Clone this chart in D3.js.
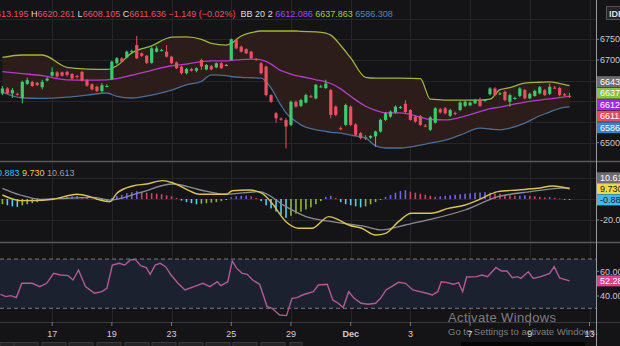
<!DOCTYPE html>
<html><head><meta charset="utf-8">
<script src="https://cdn.jsdelivr.net/npm/d3@7"></script>
<style>
html,body{margin:0;padding:0;background:#141416;overflow:hidden}
svg{display:block}
text{font-family:"Liberation Sans",Arial,sans-serif}
</style></head><body>
<svg id="c" width="620" height="346"></svg>
<script>
// ---------- DATA ----------
// hourly candles [open, high, low, close]
const candles = [
[6619,6637,6615,6631],[6631,6634,6617,6619],[6619,6632,6608,6627],[6618,6621,6614,6617],[6608,6650,6595,6647],
[6642,6657,6640,6651],[6647,6650,6635,6637],[6645,6647,6637,6639],[6634,6652,6629,6647],[6650,6658,6648,6655],
[6662,6682,6660,6671],[6670,6673,6657,6660],[6670,6672,6660,6662],[6671,6674,6660,6664],[6666,6668,6652,6655],
[6661,6664,6655,6659],[6671,6674,6648,6650],[6651,6654,6635,6638],[6641,6643,6626,6629],[6635,6638,6622,6625],
[6625,6644,6621,6639],[6637,6641,6634,6637],[6653,6698,6651,6696],[6692,6707,6689,6704],[6704,6707,6694,6696],
[6706,6723,6704,6720],[6721,6725,6718,6722],[6736,6758,6702,6704],[6716,6718,6707,6710],[6710,6712,6690,6693],
[6693,6731,6691,6728],[6720,6734,6718,6728],[6724,6727,6721,6724],[6720,6736,6706,6708],[6708,6710,6690,6692],
[6694,6696,6678,6680],[6684,6686,6665,6668],[6668,6681,6665,6678],[6678,6681,6672,6674],[6674,6682,6670,6680],
[6700,6703,6676,6684],[6677,6690,6675,6688],[6685,6688,6675,6677],[6682,6694,6680,6692],[6692,6695,6678,6680],
[6687,6690,6685,6688],[6700,6752,6698,6750],[6748,6752,6726,6728],[6732,6735,6718,6720],[6726,6728,6714,6716],
[6720,6722,6702,6704],[6702,6705,6698,6700],[6692,6695,6665,6668],[6684,6686,6612,6615],[6615,6617,6596,6599],
[6571,6574,6548,6559],[6558,6561,6553,6557],[6555,6560,6486,6539],[6543,6602,6540,6599],[6599,6602,6585,6587],
[6589,6606,6586,6603],[6597,6618,6595,6615],[6612,6616,6609,6611],[6607,6642,6605,6640],[6636,6640,6633,6636],
[6632,6652,6630,6643],[6627,6630,6559,6567],[6587,6590,6564,6567],[6535,6539,6530,6534],[6543,6594,6540,6591],
[6587,6590,6540,6543],[6544,6547,6516,6519],[6523,6526,6508,6511],[6513,6518,6506,6512],[6512,6518,6509,6516],
[6515,6529,6490,6527],[6527,6558,6524,6555],[6555,6574,6552,6571],[6563,6578,6560,6575],[6573,6590,6570,6587],
[6585,6589,6582,6586],[6594,6603,6572,6574],[6579,6581,6553,6555],[6563,6566,6548,6551],[6564,6567,6540,6543],
[6541,6545,6537,6540],[6531,6564,6528,6561],[6548,6586,6546,6583],[6581,6584,6570,6573],[6583,6586,6568,6571],
[6565,6582,6562,6579],[6572,6575,6566,6570],[6579,6600,6576,6597],[6589,6602,6586,6599],[6590,6600,6588,6597],
[6595,6606,6593,6603],[6605,6609,6586,6589],[6602,6605,6599,6603],[6617,6634,6614,6631],[6631,6634,6613,6615],
[6619,6622,6616,6619],[6623,6626,6600,6603],[6599,6618,6587,6615],[6607,6611,6604,6608],[6613,6634,6610,6631],
[6627,6630,6605,6607],[6607,6621,6605,6618],[6613,6628,6611,6625],[6619,6637,6617,6634],[6627,6630,6613,6615],
[6618,6643,6615,6635],[6633,6637,6630,6632],[6632,6635,6612,6615],[6617,6620,6613,6614],[6613.195,6620.261,6608.105,6611.636]
];
// Bollinger band (20,2) read at candle positions
const bbIdx   = [0,4,8,13,17,21,23,26,30,34,37,40,42,45,46,48,50,52,54,56,57,59,60,63,65,66,68,70,73,75,77,80,84,86,89,92,96,98,100,102,105,108,110,112,114];
const bbUpper = [6706,6712,6712,6682,6678,6677,6686,6717,6734,6755,6756,6750,6740,6736,6740,6758,6766,6770,6770,6770,6770,6770,6769,6768,6765,6760,6735,6705,6658,6656,6656,6656,6655,6605,6603,6603,6603,6605,6628,6633,6644,6646,6647,6643,6637.863];
const bbMid   = [6672,6667,6662,6652,6651,6652,6655,6663,6675,6686,6690,6696,6698,6698,6699,6701,6702,6700,6690,6674,6670,6662,6660,6652,6647,6643,6630,6612,6588,6578,6572,6572,6562,6556,6555,6561,6575,6582,6586,6591,6598,6603,6606,6609,6612.086];
const bbLower = [6622,6608,6607,6610,6615,6620,6612,6608,6615,6627,6640,6648,6664,6662,6660,6658,6657,6656,6632,6590,6572,6551,6543,6531,6527,6525,6523,6518,6511,6492,6487,6487,6494,6499,6506,6518,6535,6533,6531,6535,6547,6565,6574,6583,6586.308];
// MACD (yellow) and signal (gray) lines
const macdIdx = [0,1.6,3.6,6.2,10.2,15,17.6,19.6,21.6,23,26.2,29,32.2,34.2,37,39.6,45,46.2,49.6,52.2,54.2,57,59.6,62.2,65.6,67.6,69.6,72.2,75,77,79.6,82.2,86.2,89.6,93,95.6,99.6,103.6,107.6,110.6,114];
const macdVal = [3.8,0.7,-1.6,-1.6,-0.3,4.5,2.2,-1,-2.6,5.4,12.4,14.3,17.5,15.5,9.2,4.5,4.5,7.9,8.6,5.4,-4.1,-21.6,-27.9,-27.9,-16.8,-20,-24.8,-27.9,-34.3,-32.7,-21.6,-13.6,-13.6,-8.9,-5.7,-1,7,8.6,10.2,12.4,9.73];
const sigIdx  = [0,3.6,7.6,13,18.2,21.6,27.6,34.2,39.6,45,51.6,57,61,66.2,73,76.2,81,86.2,93,99.6,106.2,111.6,114];
const sigVal  = [10.2,3.8,-0.3,0.7,1.6,-1,6,14.3,8.8,4.5,7,-7.3,-16.8,-21.6,-26.4,-29.5,-24.8,-19.3,-10.5,2.2,7,10.2,10.613];
// MACD histogram, one per candle
const histVal = [-5,-6,-7,-7.5,-6,-5,-4,-3,-2,-1,0.5,1,1.5,2,2.5,3,2,1,0.5,-1,-1.5,-2,1,3,4,5.5,6.5,7.5,7,6,
5.5,5,4.5,3.5,2.5,1,-1.5,-3,-4,-5,-4.5,-4,-3.5,-3,-2,-1,1.5,2.5,3,3.2,2.5,1,-2,-6,-9,-12,-15,-18,-16,-14,
-12,-10,-8,-5,-2,2,3,1,-3,-5,-6,-7,-8,-7,-5,-3,-1,2,4,6,7.5,8.5,7,6,5,4,3,2,2.5,3,
3.5,4,4.5,5,5.5,6,6.2,6.5,6,5.5,5,4,3.5,3,3.2,3.5,3,2.5,2,1.5,1.8,1.2,0.5,-0.5,-0.883];
// RSI(14)
const rsiIdx = [-0.4,0.7,1.7,2.8,3.9,6,7.5,8.9,10.3,11.7,13.2,14.2,15.3,16.7,18.5,20,21,22.1,23.5,24.6,25.7,26.7,27.8,28.9,29.7,30.7,31.7,32.8,33.9,35.3,36.7,38.5,40.3,41.7,43.2,43.9,45.3,46.2,47.1,48.2,49.2,50.3,51.7,53.2,54.2,55.7,57.1,58.2,59.2,60.3,61.4,62.5,63.5,65.3,66.4,67.5,68.5,69.6,70.7,72.1,73.5,75,76,77.1,78.2,79.6,81,82.5,83.9,85.3,86.4,87.5,88.2,89.2,90.7,91.7,92.5,93.3,95.3,96.4,97.5,99.2,100.3,101.4,102.5,103.5,104.2,105.7,106.7,108.2,110,110.9,112,114];
const rsiVal = [41.4,39.5,40.3,38.7,50.3,50.3,47.6,50.3,58.4,57,56.5,53,61.1,47.6,42.2,43.5,46.2,65.1,66.5,65.1,69.2,69.7,64.6,63,57.6,65.1,66.5,63.8,57,50.3,44.9,47.6,50.3,47.6,51.6,48.4,51.6,68.4,62.4,58.4,57.6,53,49.5,31.4,30,24.6,24.1,38.1,38.7,40.8,42.2,43.5,48.9,49.5,36.8,34.1,30.6,43.5,38.1,34.1,33.3,34.1,38.1,44.9,47.6,51.1,50.3,44.9,43.5,42.2,40.8,43.5,51.6,51.1,49.5,50.8,43.5,55.4,55.7,57,55.7,63.2,60.3,60.3,54.9,55.7,54.3,59.7,54.3,55.7,58.4,63.8,54.6,52.28];
const rsiBands = [70,30];
// time axis
const dayTicks  = [10,22,34,46,58,70,82,94,106,118];
const dayLabels = ["17","19","23","25","29","Dec","3","7","9","13"];
const priceGrid = [6500,6550,6600,6650,6700,6750,6800];
const priceTickLabels = [6750,6700,6500];
const priceTags = [
 {v:6643,     t:"6643.",    bg:"#6e6e72", fg:"#ffffff"},
 {v:6637.863, t:"6637.863", bg:"#86c43f", fg:"#ffffff"},
 {v:6612.086, t:"6612.086", bg:"#a327e6", fg:"#ffffff"},
 {v:6611.636, t:"6611.636", bg:"#e84a5a", fg:"#ffffff"},
 {v:6586.308, t:"6586.308", bg:"#3d82c8", fg:"#ffffff"}];
const macdTags = [
 {v:10.613, t:"10.613", bg:"#6e6e72", fg:"#ffffff"},
 {v:9.730,  t:"9.730",  bg:"#f2d54a", fg:"#222222"},
 {v:-0.883, t:"-0.883", bg:"#3fb9f0", fg:"#10202a"}];
const macdTickLabels = [-20];
const rsiTickLabels = [60,40];
const rsiTag = {v:52.28, t:"52.28", bg:"#e0408c", fg:"#ffffff"};

// ---------- SCALES ----------
const svg = d3.select("#c");
const AX = 596;
const x  = d3.scaleLinear().domain([0,118]).range([2.4,589.5]);
const yP = d3.scaleLinear().domain([6458,6845]).range([160,0]);
const yM = d3.scaleLinear().domain([-41,34.3]).range([242,163]);
const yR = d3.scaleLinear().domain([18.9,82.2]).range([322,244]);

svg.append("rect").attr("width",620).attr("height",346).attr("fill","#141416");

const defs = svg.append("defs");
function clip(id,y0,h){defs.append("clipPath").attr("id",id).append("rect").attr("x",0).attr("y",y0).attr("width",AX).attr("height",h);}
clip("cp",0,161); clip("cm",163,79); clip("cr",244,78);

// grid
const grid = svg.append("g").attr("stroke","#26262a").attr("stroke-width",1);
grid.selectAll("line.v").data(dayTicks).join("line")
  .attr("x1",d=>Math.round(x(d))+0.5).attr("x2",d=>Math.round(x(d))+0.5).attr("y1",0).attr("y2",322);
grid.selectAll("line.p").data(priceGrid).join("line").attr("class","p")
  .attr("x1",0).attr("x2",AX).attr("y1",d=>Math.round(yP(d))+0.5).attr("y2",d=>Math.round(yP(d))+0.5);
grid.selectAll("line.m").data([-20,0,20]).join("line").attr("class","m")
  .attr("x1",0).attr("x2",AX).attr("y1",d=>Math.round(yM(d))+0.5).attr("y2",d=>Math.round(yM(d))+0.5);

// ---------- MAIN PANEL ----------
const gP = svg.append("g").attr("clip-path","url(#cp)");
const bb = bbIdx.map((d,k)=>({i:d,u:bbUpper[k],m:bbMid[k],l:bbLower[k]}));
const cur = d3.curveMonotoneX;
gP.append("path").datum(bb).attr("fill","#2c1d1b")
  .attr("d",d3.area().curve(cur).x(d=>x(d.i)).y0(d=>yP(d.l)).y1(d=>yP(d.u)));
const band = (k,col)=>gP.append("path").datum(bb).attr("fill","none").attr("stroke",col).attr("stroke-width",1.3)
  .attr("d",d3.line().curve(cur).x(d=>x(d.i)).y(d=>yP(d[k])));
band("u","#9fb53f"); band("l","#4d6c94"); band("m","#b23ec6");

const UP="#3ec96e", DN="#ec4f63";
const cg = gP.selectAll("g.c").data(candles).join("g");
cg.append("line").attr("x1",(d,i)=>x(i)).attr("x2",(d,i)=>x(i))
  .attr("y1",d=>yP(d[1])).attr("y2",d=>yP(d[2]))
  .attr("stroke",d=>d[3]>=d[0]?UP:DN).attr("stroke-width",1);
cg.append("rect").attr("x",(d,i)=>x(i)-1.6).attr("width",3.2)
  .attr("y",d=>yP(Math.max(d[0],d[3])))
  .attr("height",d=>Math.max(1,Math.abs(yP(d[0])-yP(d[3]))))
  .attr("fill",d=>d[3]>=d[0]?UP:DN);

// ---------- MACD PANEL ----------
const gM = svg.append("g").attr("clip-path","url(#cm)");
gM.selectAll("rect").data(histVal).join("rect")
  .attr("x",(d,i)=>x(i)-0.8).attr("width",1.6)
  .attr("y",d=>Math.min(yM(d),yM(0))).attr("height",d=>Math.max(0.8,Math.abs(yM(d)-yM(0))))
  .attr("fill",(d,i)=>{const p=i>0?histVal[i-1]:d;
     if(d>=0) return d>=p?"#7462ea":"#d0466a";
     return d<p?"#5ccbf2":"#8fb53c";});
gM.append("path").datum(sigIdx.map((d,k)=>[d,sigVal[k]])).attr("fill","none").attr("stroke","#8b8b96").attr("stroke-width",1.3)
  .attr("d",d3.line().curve(cur).x(d=>x(d[0])).y(d=>yM(d[1])));
gM.append("path").datum(macdIdx.map((d,k)=>[d,macdVal[k]])).attr("fill","none").attr("stroke","#d8c450").attr("stroke-width",1.4)
  .attr("d",d3.line().curve(cur).x(d=>x(d[0])).y(d=>yM(d[1])));

// ---------- RSI PANEL ----------
const gR = svg.append("g").attr("clip-path","url(#cr)");
gR.append("rect").attr("x",0).attr("width",AX).attr("y",yR(rsiBands[0])).attr("height",yR(rsiBands[1])-yR(rsiBands[0])).attr("fill","#1c2130");
gR.selectAll("line.b").data(rsiBands).join("line").attr("x1",0).attr("x2",AX)
  .attr("y1",d=>yR(d)).attr("y2",d=>yR(d)).attr("stroke","#7a7a80").attr("stroke-dasharray","4,3").attr("stroke-width",1);
gR.append("path").datum(rsiIdx.map((d,k)=>[d,rsiVal[k]])).attr("fill","none").attr("stroke","#b35a92").attr("stroke-width",1.4)
  .attr("d",d3.line().x(d=>x(d[0])).y(d=>yR(d[1])));

// ---------- separators ----------
const sep = svg.append("g").attr("stroke","#58585c").attr("stroke-width",1.5);
[161.5,242.5].forEach(y=>sep.append("line").attr("x1",0).attr("x2",620).attr("y1",y).attr("y2",y));
svg.append("line").attr("x1",0).attr("x2",620).attr("y1",322.5).attr("y2",322.5).attr("stroke","#3a3a3e");
svg.append("line").attr("x1",AX+0.5).attr("x2",AX+0.5).attr("y1",0).attr("y2",346).attr("stroke","#9a9a9e").attr("stroke-width",1);

// ---------- right axis ----------
const ra = svg.append("g").attr("font-size",9);
function plain(vals,scale,fmt){
  vals.forEach(v=>{const y=scale(v);
    ra.append("line").attr("x1",AX).attr("x2",AX+3).attr("y1",y).attr("y2",y).attr("stroke","#888");
    ra.append("text").attr("x",600).attr("y",y+3.2).attr("fill","#c8c8cc").text(fmt(v));});
}
plain(priceTickLabels,yP,v=>v.toFixed(2));
plain(macdTickLabels,yM,v=>v.toFixed(1));
plain(rsiTickLabels,yR,v=>v.toFixed(2));
function tags(list,ys){
  list.forEach((t,k)=>{const y=ys[k];
    ra.append("rect").attr("x",597).attr("y",y-5.5).attr("width",30).attr("height",11).attr("fill",t.bg);
    ra.append("text").attr("x",600).attr("y",y+3.2).attr("fill",t.fg).text(t.t);});
}
// stack price tags downward, MACD tags upward
const pys = priceTags.map(t=>yP(t.v)); pys[0]-=1.8; for(let k=1;k<pys.length;k++) pys[k]=Math.max(pys[k],pys[k-1]+11.5);
tags(priceTags,pys);
const mys = macdTags.map(t=>yM(t.v)); for(let k=mys.length-2;k>=0;k--) mys[k]=Math.min(mys[k],mys[k+1]-11);
tags(macdTags,mys);
tags([rsiTag],[yR(rsiTag.v)]);

// IDR box
svg.append("rect").attr("x",606.5).attr("y",6.5).attr("width",20).attr("height",13).attr("fill","#252528").attr("stroke","#55555a");
svg.append("text").attr("x",609).attr("y",16.5).attr("font-size",9).attr("font-weight","bold").attr("fill","#dcdcdc").text("IDR");

// ---------- legends ----------
function legend(y,parts,x0){
  const t=svg.append("text").attr("x",x0).attr("y",y).attr("font-size",9).attr("xml:space","preserve");
  parts.forEach(p=>t.append("tspan").attr("fill",p[1]).text(p[0]));
}
const R="#e2525f", Wt="#dedede";
legend(17,[["O",Wt],["6613.195",R],[" H",Wt],["6620.261",R],[" L",Wt],["6608.105",R],[" C",Wt],["6611.636",R],
  [" −1.149 (−0.02%)",R],["  BB 20 2 ",Wt],["6612.086","#a544f0"],[" 6637.863","#9ccc3c"],[" 6586.308","#4f86c6"]],-16);
legend(176,[["-0.883","#4bb8ea"],[" 9.730","#e0cc50"],[" 10.613","#9a9aa2"]],-6);

// ---------- time axis ----------
const ta = svg.append("g").attr("font-size",9).attr("fill","#cfcfd2").attr("text-anchor","middle");
dayTicks.forEach((d,k)=>{
  const xx=x(d);
  svg.append("line").attr("x1",xx).attr("x2",xx).attr("y1",322).attr("y2",326).attr("stroke","#777");
  ta.append("text").attr("x",xx).attr("y",337).attr("font-weight",dayLabels[k]==="Dec"?"bold":"normal").text(dayLabels[k]);
});
// bottom toolbar strip
const tb=[0,14,42,69,97,125,152,179,206,233,261,290];
tb.forEach((b,k)=>svg.append("rect").attr("x",b).attr("y",342.5).attr("width",k==tb.length-1?12:24).attr("height",4).attr("fill","#242427").attr("stroke","#3a3a3e"));
svg.append("rect").attr("x",461).attr("y",342).attr("width",124).attr("height",4).attr("fill","#050505");

// watermark
svg.append("text").attr("x",448).attr("y",322).attr("font-family","Noto Sans").attr("font-size",13).attr("textLength",108)
  .attr("fill","rgba(255,255,255,0.45)").text("Activate Windows");
svg.append("text").attr("x",448).attr("y",335).attr("font-family","Noto Sans").attr("font-size",9.5).attr("textLength",150)
  .attr("fill","rgba(255,255,255,0.45)").text("Go to Settings to activate Windows.");
</script></body></html>
